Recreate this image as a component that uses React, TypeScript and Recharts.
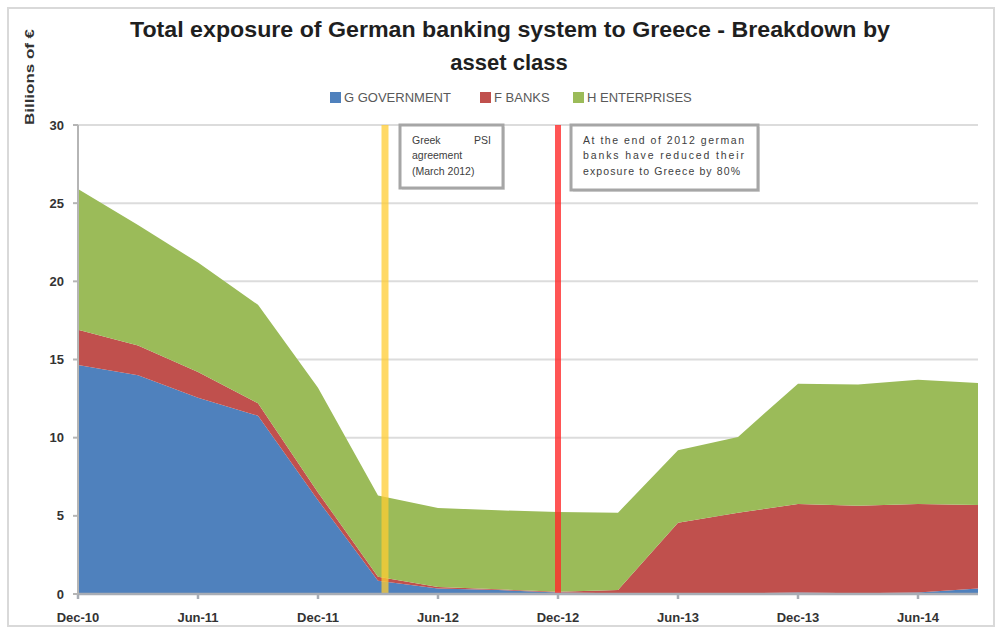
import React from 'react';
import { AreaChart, Area, XAxis, YAxis, CartesianGrid, ReferenceLine } from 'recharts';

const quarters = ['Dec-10', 'Mar-11', 'Jun-11', 'Sep-11', 'Dec-11', 'Mar-12', 'Jun-12', 'Sep-12', 'Dec-12', 'Mar-13', 'Jun-13', 'Sep-13', 'Dec-13', 'Mar-14', 'Jun-14', 'Sep-14'];
const monthIndex = [0, 3, 6, 9, 12, 15, 18, 21, 24, 27, 30, 33, 36, 39, 42, 45];
const government = [14.65, 14.0, 12.55, 11.4, 6.0, 0.85, 0.35, 0.25, 0.1, 0.05, 0.05, 0.05, 0.1, 0.05, 0.1, 0.35];
const banks = [2.25, 1.9, 1.65, 0.8, 0.5, 0.25, 0.1, 0.05, 0.05, 0.2, 4.5, 5.15, 5.65, 5.6, 5.65, 5.35];
const enterprises = [9.0, 7.7, 7.0, 6.3, 6.7, 5.2, 5.05, 5.05, 5.1, 4.95, 4.65, 4.85, 7.7, 7.75, 7.95, 7.8];

const tickMonths = [0, 6, 12, 18, 24, 30, 36, 42];
const tickLabels = ['Dec-10', 'Jun-11', 'Dec-11', 'Jun-12', 'Dec-12', 'Jun-13', 'Dec-13', 'Jun-14'];
const yTicks = [0, 5, 10, 15, 20, 25, 30];

const seriesNames = ['G GOVERNMENT', 'F BANKS', 'H ENTERPRISES'];
const seriesKeys = ['gov', 'banks', 'ent'];
const seriesColors = ['#4F81BD', '#C0504D', '#9BBB59'];

const pslMonth = 15.35;
const endOf2012Month = 24;

const data = quarters.map((q, i) => ({
  q,
  m: monthIndex[i],
  gov: government[i],
  banks: banks[i],
  ent: enterprises[i],
}));

const W = 1000;
const H = 632;

const noteFont = { fontFamily: 'Liberation Sans, Arial, sans-serif', fontSize: 10.5, fill: '#404040' } as const;

function NoteBox({ vb, offset, width, height, kind }: any) {
  if (!vb) return null;
  const x = vb.x + offset;
  const y = vb.y;
  const tx = x + 12;
  const tw = width - 26;
  return (
    <g>
      <rect x={x + 2} y={y + 2} width={width} height={height} fill="#E6E6E6" />
      <rect x={x} y={y} width={width} height={height} fill="#FFFFFF" stroke="#A6A6A6" strokeWidth={3} />
      {kind === 1 ? (
        <g {...noteFont}>
          <text x={tx} y={y + 19}>Greek</text>
          <text x={tx + tw + 2} y={y + 19} textAnchor="end">PSI</text>
          <text x={tx} y={y + 34}>agreement</text>
          <text x={tx} y={y + 50}>(March 2012)</text>
        </g>
      ) : (
        <g {...noteFont}>
          <text x={tx} y={y + 19} textLength={tw} lengthAdjust="spacing">At the end of 2012 german</text>
          <text x={tx} y={y + 34} textLength={tw} lengthAdjust="spacing">banks have reduced their</text>
          <text x={tx} y={y + 50} textLength={tw - 4} lengthAdjust="spacing">exposure to Greece by 80%</text>
        </g>
      )}
    </g>
  );
}

export default function App() {
  const fmt = (v: number) => {
    const i = tickMonths.indexOf(v);
    return i >= 0 ? tickLabels[i] : '';
  };
  const legendX = [330, 480, 573];
  return (
    <div style={{ position: 'absolute', left: 0, top: 0, width: W, height: H, background: '#FFFFFF' }}>
      <svg width={W} height={H} style={{ position: 'absolute', left: 0, top: 0 }}>
        <rect x={8} y={8} width={986} height={618} fill="#FFFFFF" stroke="#D9D9D9" strokeWidth={2} />
        <text x={510} y={37} textAnchor="middle" textLength={760} lengthAdjust="spacingAndGlyphs"
          style={{ fontFamily: 'Liberation Sans, Arial, sans-serif', fontSize: 22, fontWeight: 700, fill: '#1F1F1F' }}>
          Total exposure of German banking system to Greece - Breakdown by
        </text>
        <text x={509} y={70} textAnchor="middle"
          style={{ fontFamily: 'Liberation Sans, Arial, sans-serif', fontSize: 22, fontWeight: 700, fill: '#1F1F1F' }}>
          asset class
        </text>
        <text x={34} y={77} textAnchor="middle" transform="rotate(-90 34 77)" textLength={96} lengthAdjust="spacingAndGlyphs"
          style={{ fontFamily: 'Liberation Sans, Arial, sans-serif', fontSize: 13, fontWeight: 700, fill: '#333333' }}>
          Billions of €
        </text>
        {seriesNames.map((n, i) => (
          <g key={n}>
            <rect x={legendX[i]} y={92} width={11} height={11} fill={seriesColors[i]} />
            <text x={legendX[i] + 14} y={102} style={{ fontFamily: 'Liberation Sans, Arial, sans-serif', fontSize: 13, fill: '#595959' }}>{n}</text>
          </g>
        ))}
      </svg>
      <div style={{ position: 'absolute', left: 0, top: 0 }}>
        <AreaChart width={W} height={H} data={data} margin={{ top: 125, right: 22, left: 18, bottom: 8 }}>
          <CartesianGrid vertical={false} stroke="#DCDCDC" strokeWidth={2} />
          <XAxis
            dataKey="m"
            type="number"
            domain={[0, 45]}
            ticks={tickMonths}
            tickFormatter={fmt}
            height={30}
            stroke="#A8ADB5"
            strokeWidth={2.5}
            tickSize={5}
            tickMargin={14}
            tick={{ fontFamily: 'Liberation Sans, Arial, sans-serif', fontSize: 13, fontWeight: 700, fill: '#333333' }}
          />
          <YAxis
            domain={[0, 30]}
            ticks={yTicks}
            width={60}
            stroke="#B5B5B5"
            strokeWidth={2}
            tickSize={5}
            tickMargin={9}
            tick={{ fontFamily: 'Liberation Sans, Arial, sans-serif', fontSize: 13, fontWeight: 700, fill: '#333333' }}
          />
          {seriesKeys.map((k, i) => (
            <Area
              key={k}
              type="linear"
              dataKey={k}
              name={seriesNames[i]}
              stackId="a"
              stroke="none"
              fill={seriesColors[i]}
              fillOpacity={1}
              isAnimationActive={false}
            />
          ))}
          <ReferenceLine
            x={pslMonth}
            stroke="#FFCC33"
            strokeOpacity={0.75}
            strokeWidth={7}
            label={(p: any) => <NoteBox vb={p.viewBox} offset={15} width={103} height={63} kind={1} />}
          />
          <ReferenceLine
            x={endOf2012Month}
            stroke="#FF2A2A"
            strokeOpacity={0.8}
            strokeWidth={6}
            label={(p: any) => <NoteBox vb={p.viewBox} offset={13} width={187} height={65} kind={2} />}
          />
        </AreaChart>
      </div>
    </div>
  );
}
